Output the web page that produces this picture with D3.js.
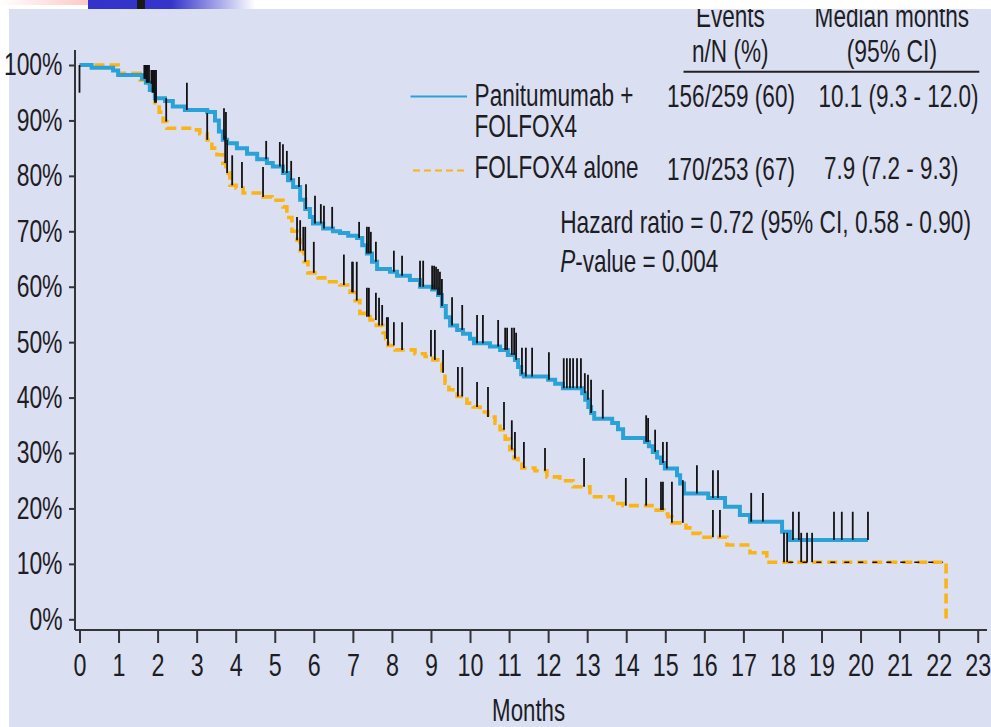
<!DOCTYPE html>
<html>
<head>
<meta charset="utf-8">
<script src="https://cdn.jsdelivr.net/npm/d3@7"></script>
<style>
  html, body { margin: 0; padding: 0; background: #ffffff; }
  svg { display: block; }
  text { font-family: "Liberation Sans", Arial, sans-serif; fill: #1d1d24; }
</style>
</head>
<body>
<svg id="chart" width="991" height="727"></svg>
<script>
// ---- data -------------------------------------------------------------
const monthTicks = d3.range(0, 24);
const percentTicks = [0, 10, 20, 30, 40, 50, 60, 70, 80, 90, 100];

// Kaplan-Meier steps: [month, survival % after the event]
const panitEvents = [
  [0.31,99.5],[0.86,99.0],[0.99,98.2],[1.60,97.5],[1.70,96.8],[1.80,95.5],[1.93,94.0],[2.19,93.5],
  [2.39,92.5],[2.70,91.9],[3.27,91.5],[3.47,90.0],[3.57,88.0],[3.67,86.5],[3.78,85.9],[4.03,85.0],
  [4.29,84.0],[4.55,83.0],[4.80,82.3],[4.95,81.7],[5.21,80.5],[5.34,79.2],[5.47,78.0],[5.65,75.7],
  [5.78,74.0],[5.90,72.6],[5.98,71.4],[6.24,70.5],[6.49,70.0],[6.67,69.7],[6.88,69.2],[7.11,68.8],
  [7.24,67.5],[7.36,66.0],[7.49,64.5],[7.62,63.2],[7.95,62.7],[8.13,62.0],[8.46,61.2],[8.72,60.0],
  [9.03,59.5],[9.18,58.5],[9.28,56.5],[9.38,54.5],[9.49,53.0],[9.67,52.2],[9.82,51.5],[10.00,50.6],
  [10.10,49.8],[10.51,49.2],[10.77,48.6],[10.97,47.7],[11.15,46.8],[11.23,45.5],[11.31,44.2],[11.38,43.8],
  [12.00,43.2],[12.18,42.5],[12.38,41.7],[12.87,40.8],[12.95,39.6],[13.03,38.3],[13.10,37.2],[13.18,36.2],
  [13.64,35.4],[13.79,34.3],[13.92,32.7],[14.48,32.0],[14.58,31.2],[14.68,30.2],[14.79,29.2],[14.89,28.2],
  [14.99,27.2],[15.30,26.0],[15.38,24.5],[15.48,22.7],[16.10,21.9],[16.53,20.3],[16.91,18.8],[17.17,17.6],
  [17.99,15.8],[18.19,14.3]
];
const panitLastFollowUp = 20.19;

const folfoxEvents = [
  [0.99,98.5],[1.55,97.3],[1.80,96.6],[1.86,95.0],[1.93,93.2],[2.04,91.5],[2.14,89.8],[2.24,88.6],
  [2.90,88.3],[3.08,87.6],[3.27,86.5],[3.39,85.0],[3.52,83.8],[3.67,82.3],[3.75,80.5],[3.85,78.3],
  [4.01,77.8],[4.19,76.9],[4.70,76.2],[4.93,75.6],[5.21,74.4],[5.31,72.5],[5.44,70.0],[5.57,68.4],
  [5.65,66.5],[5.75,64.5],[5.85,62.5],[6.11,61.6],[6.34,60.9],[6.67,60.3],[6.93,59.0],[7.06,57.5],
  [7.18,55.2],[7.34,54.6],[7.44,54.0],[7.60,53.0],[7.77,51.7],[7.84,50.6],[7.90,49.4],[8.08,48.6],
  [8.59,47.9],[8.85,47.4],[9.05,46.8],[9.23,46.2],[9.28,44.5],[9.36,42.6],[9.46,41.4],[9.67,40.2],
  [9.92,39.0],[10.08,38.3],[10.26,37.4],[10.46,36.5],[10.64,35.4],[10.77,34.2],[10.90,32.5],[11.02,30.6],
  [11.13,29.0],[11.23,28.0],[11.33,27.3],[11.66,26.8],[11.97,25.7],[12.30,25.0],[12.64,23.9],[13.07,22.1],
  [13.66,20.9],[13.92,20.5],[14.66,19.7],[14.97,19.0],[15.07,18.5],[15.17,17.4],[15.53,16.5],[15.71,15.5],
  [15.89,14.8],[16.58,13.4],[17.17,12.0],[17.60,10.3],[22.19,0]
];
const folfoxLastFollowUp = 22.19;

// Censoring marks: [month, far end of the mark in %]
const panitCensored = [
  [0,95],[1.66,100],[1.69,100],[1.72,100],[1.75,100],[1.78,100],[2.75,96.8],[3.70,92.2],[3.75,91.5],
  [4.78,86.3],[5.13,86.1],[5.21,85.7],
  [5.31,84.5],[5.42,82.7],[5.62,79.8],[5.80,78.5],[6.03,76.4],[6.18,74.9],[6.26,74.6],[6.47,74.4],
  [7.16,71.7],[7.36,70.8],[7.41,70.8],[7.46,69.9],[7.59,68.1],[8.05,66.5],[8.26,65.6],[8.72,64.7],
  [8.80,64.7],[9.03,63.8],[9.08,63.8],[9.13,63.6],[9.18,63.2],[9.23,62.7],[9.28,61.4],[9.54,58.1],
  [9.80,56.7],[10.18,54.9],[10.33,54.9],[10.72,54.0],[10.90,52.6],[10.95,52.6],[11.07,52.6],[11.13,52.6],
  [11.18,51.7],[11.33,49.0],[11.43,49.0],[11.59,49.0],[12.02,48.2],[12.40,47.1],[12.48,47.1],[12.56,47.1],
  [12.64,47.1],[12.74,47.1],[12.84,47.1],[12.94,44.4],[13.02,44.1],[13.10,43.2],[13.40,41.4],[14.51,36.8],
  [14.56,36.3],[14.74,34.2],[14.94,32.0],[15.04,32.0],[15.81,27.8],[16.22,26.9],[16.35,26.9],[17.20,22.8],
  [17.50,22.8],[18.27,19.4],[18.42,19.4],[19.32,19.4],[19.52,19.4],[19.80,19.4],[20.19,19.4]
];
const folfoxCensored = [
  [1.84,99.1],[1.87,99.1],[1.90,99.1],[1.93,99.1],[1.96,99.1],[2.22,94.0],[3.27,91.3],[3.73,87.2],[3.78,86.5],
  [3.91,83.7],[4.16,82.5],
  [4.70,81.6],[5.57,72.6],[5.65,72.0],[5.73,70.8],[5.78,70.8],[6.00,68.1],[6.77,65.8],[6.98,64.5],
  [7.00,64.5],[7.10,64.5],[7.36,59.8],[7.41,59.8],[7.59,58.9],[7.67,58.0],[7.75,56.7],[7.87,54.5],
  [7.90,54.5],[8.05,53.6],[8.26,53.6],[9.00,52.2],[9.10,52.2],[9.31,48.6],[9.69,45.5],[9.80,45.5],
  [10.18,42.8],[10.46,41.9],[10.87,39.2],[11.07,35.9],[11.15,33.8],[11.38,32.0],[11.92,30.9],[12.92,29.1],
  [13.99,25.5],[14.51,25.5],[14.89,24.8],[14.94,24.8],[15.17,24.8],[15.45,25.1],[16.22,19.7],[16.40,19.7],
  [18.04,15.6],[18.12,15.6],[18.48,15.6],[18.63,15.6],[18.76,15.6]
];

const armLabels = [["Panitumumab +", "FOLFOX4"], ["FOLFOX4 alone"]];
const eventCounts = ["156/259 (60)", "170/253 (67)"];
const medianMonths = ["10.1 (9.3 - 12.0)", "7.9 (7.2 - 9.3)"];
const columnHeads = [["Events", "n/N (%)"], ["Median months", "(95% CI)"]];
const hazardRatio = "Hazard ratio = 0.72 (95% CI, 0.58 - 0.90)";
const pValue = "0.004";
const xTitle = "Months";

// ---- drawing ------------------------------------------------------------
const W = 991, H = 727;
const svg = d3.select("#chart");
const BLUE = "#2aa2d8", ORANGE = "#fbb416", INK = "#1d1d24", AXIS = "#333338";
const FS = 31.5;           // type size used throughout (condensed horizontally)

// page background and banner strip
const defs = svg.append("defs");
const pink = defs.append("linearGradient").attr("id", "pinkFade");
pink.append("stop").attr("offset", "0%").attr("stop-color", "#ffffff");
pink.append("stop").attr("offset", "100%").attr("stop-color", "#ffb3b3");
const blueFade = defs.append("linearGradient").attr("id", "blueFade");
blueFade.append("stop").attr("offset", "0%").attr("stop-color", "#3333cc");
blueFade.append("stop").attr("offset", "50%").attr("stop-color", "#3535cc");
blueFade.append("stop").attr("offset", "100%").attr("stop-color", "#ffffff");

svg.append("rect").attr("width", W).attr("height", H).attr("fill", "#ffffff");
svg.append("rect").attr("x", 9).attr("y", 9).attr("width", W - 9).attr("height", H - 9).attr("fill", "#dbdff2");

const x = d3.scaleLinear().domain([0, 23]).range([79.5, 977.7]);
const y = d3.scaleLinear().domain([0, 100]).range([619.3, 65]);

// condensed text: laid out at the origin, then squeezed to a given ink width
function fitText(parent, str, left, baseline, width, build) {
  const t = parent.append("text").attr("x", 0).attr("y", 0).attr("font-size", FS);
  if (build) build(t); else t.text(str);
  const natural = t.node().getBBox().width;
  t.attr("transform", `translate(${left},${baseline}) scale(${width / natural},1)`);
  return t;
}

// axes
const ySX = 0.74;
const yAxis = d3.axisLeft(y).tickValues(percentTicks).tickFormat(d => d + "%").tickSize(6).tickPadding(7);
const gy = svg.append("g").attr("transform", "translate(75,0)").call(yAxis);
gy.select(".domain").attr("d", "M0,50V630").attr("stroke", AXIS).attr("stroke-width", 2);
gy.selectAll(".tick line").attr("stroke", AXIS).attr("stroke-width", 2);
gy.selectAll(".tick text").attr("font-size", 31).attr("fill", INK).attr("font-family", null)
  .attr("x", -12.5 / ySX).attr("transform", `scale(${ySX},1)`);

const xSX = 0.74;
const xAxis = d3.axisBottom(x).tickValues(monthTicks).tickFormat(d3.format("d")).tickSize(13).tickPadding(11);
const gx = svg.append("g").attr("transform", "translate(0,630)").call(xAxis);
gx.select(".domain").attr("d", "M75,0H987").attr("stroke", AXIS).attr("stroke-width", 2);
gx.selectAll(".tick line").attr("stroke", AXIS).attr("stroke-width", 2);
gx.selectAll(".tick text").attr("font-size", FS).attr("fill", INK).attr("font-family", null)
  .attr("transform", `scale(${xSX},1)`);

fitText(svg, xTitle, x(11.5) - 36.5, 721, 73);

// step curves
function stepPoints(events, lastFollowUp) {
  const pts = [[0, 100], ...events];
  const last = pts[pts.length - 1];
  if (lastFollowUp > last[0]) pts.push([lastFollowUp, last[1]]);
  return pts;
}
function survivalAt(events, t) {
  let s = 100;
  for (const [et, es] of events) { if (et <= t) s = es; else break; }
  return s;
}
const stepLine = d3.line().x(d => x(d[0])).y(d => y(d[1])).curve(d3.curveStepAfter);

svg.append("path").attr("d", stepLine(stepPoints(folfoxEvents, folfoxLastFollowUp))).attr("fill", "none")
  .attr("stroke", ORANGE).attr("stroke-width", 3.6).attr("stroke-dasharray", "10,5");
svg.append("path").attr("d", stepLine(stepPoints(panitEvents, panitLastFollowUp))).attr("fill", "none")
  .attr("stroke", BLUE).attr("stroke-width", 4);

// black dashes running inside the final flat stretch of the FOLFOX4 curve
const tailLevel = folfoxEvents[folfoxEvents.length - 2][1];
const tailEnd = folfoxEvents[folfoxEvents.length - 1][0];
svg.append("line")
  .attr("x1", x(18.15)).attr("x2", x(tailEnd) - 3)
  .attr("y1", y(tailLevel)).attr("y2", y(tailLevel))
  .attr("stroke", "#111").attr("stroke-width", 1.6).attr("stroke-dasharray", "5,9");

// censoring marks
function drawCensored(marks, events) {
  svg.append("g").selectAll("line").data(marks).join("line")
    .attr("x1", d => x(d[0])).attr("x2", d => x(d[0]))
    .attr("y1", d => y(survivalAt(events, d[0]))).attr("y2", d => y(d[1]))
    .attr("stroke", "#121214").attr("stroke-width", 1.8);
}
drawCensored(folfoxCensored, folfoxEvents);
drawCensored(panitCensored, panitEvents);

// legend and summary table
svg.append("line").attr("x1", 410.5).attr("x2", 467).attr("y1", 96.5).attr("y2", 96.5)
  .attr("stroke", BLUE).attr("stroke-width", 2);
svg.append("line").attr("x1", 413).attr("x2", 466).attr("y1", 170.5).attr("y2", 170.5)
  .attr("stroke", ORANGE).attr("stroke-width", 2).attr("stroke-dasharray", "7,4");

// arm names
fitText(svg, armLabels[0][0], 474.6, 106, 159);
fitText(svg, armLabels[0][1], 474.6, 137.3, 102.6);
fitText(svg, armLabels[1][0], 474.6, 178.3, 164);
// events and medians
fitText(svg, eventCounts[0], 667, 107, 128);
fitText(svg, eventCounts[1], 667, 179.5, 128);
fitText(svg, medianMonths[0], 818.4, 107, 160.2);
fitText(svg, medianMonths[1], 824, 178.5, 134.6);
// column heads
fitText(svg, columnHeads[0][0], 695.9, 26.7, 69);
fitText(svg, columnHeads[0][1], 692, 61.7, 76.6);
fitText(svg, columnHeads[1][0], 814.6, 26.7, 154.6);
fitText(svg, columnHeads[1][1], 846.7, 61.7, 90.4);
svg.append("line").attr("x1", 683.5).attr("x2", 979.3).attr("y1", 71.7).attr("y2", 71.7)
  .attr("stroke", "#222").attr("stroke-width", 2);

fitText(svg, hazardRatio, 560.2, 233.3, 411);
fitText(svg, null, 560.2, 271.5, 158, t => {
  t.append("tspan").attr("font-style", "italic").text("P");
  t.append("tspan").text("-value = " + pValue);
});

// banner strip across the top edge
svg.append("rect").attr("x", 0).attr("y", 0).attr("width", W).attr("height", 9).attr("fill", "#ffffff");
svg.append("rect").attr("x", 0).attr("y", 0).attr("width", 121).attr("height", 5).attr("fill", "url(#pinkFade)");
svg.append("rect").attr("x", 88).attr("y", 0).attr("width", 167).attr("height", 9).attr("fill", "url(#blueFade)");
svg.append("rect").attr("x", 137).attr("y", 0).attr("width", 8).attr("height", 9).attr("fill", "#1a1a1a");
</script>
</body>
</html>
